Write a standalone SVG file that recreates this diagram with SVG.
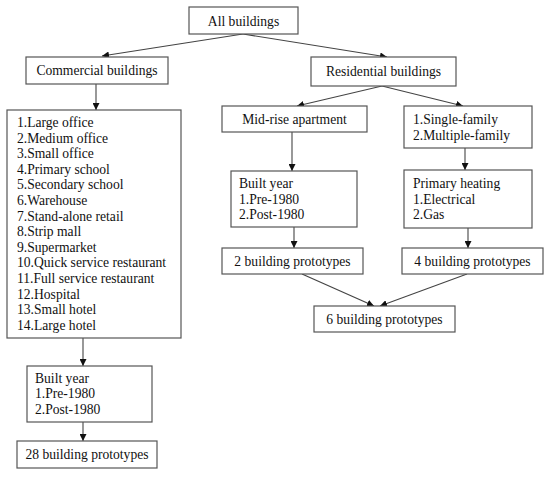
<svg xmlns="http://www.w3.org/2000/svg" width="550" height="477" viewBox="0 0 550 477">
<style>
.b{fill:#fff;stroke:#555;stroke-width:1.2}
text{font-family:"Liberation Serif","Times New Roman",serif;font-size:13.6px;fill:#111}
.c{text-anchor:middle}
.e{stroke:#444;stroke-width:1.1;fill:none;marker-end:url(#a)}
</style>
<defs>
<marker id="a" viewBox="0 0 10 10" refX="10" refY="5" markerWidth="7" markerHeight="7" markerUnits="userSpaceOnUse" orient="auto">
<path d="M0,0 L10,5 L0,10 z" fill="#111"/>
</marker>
</defs>
<rect width="550" height="477" fill="#fff"/>
<g id="connectors">
<line class="e" x1="243" y1="34" x2="102" y2="56"/>
<line class="e" x1="243" y1="34" x2="387" y2="57"/>
<line class="e" x1="96" y1="84" x2="96" y2="110"/>
<line class="e" x1="382" y1="86" x2="297" y2="106"/>
<line class="e" x1="382" y1="86" x2="463" y2="106"/>
<line class="e" x1="292" y1="132" x2="292" y2="171"/>
<line class="e" x1="465" y1="148" x2="465" y2="170"/>
<line class="e" x1="294" y1="227" x2="294" y2="248"/>
<line class="e" x1="468" y1="228" x2="468" y2="248"/>
<line class="e" x1="302" y1="274" x2="374" y2="306"/>
<line class="e" x1="467" y1="274" x2="380" y2="306"/>
<line class="e" x1="83" y1="337" x2="83" y2="366"/>
<line class="e" x1="83" y1="422" x2="83" y2="441"/>
</g>
<g id="all">
<rect class="b" x="189" y="7" width="109" height="27"/>
<text class="c" x="243.5" y="26">All buildings</text>
</g>
<g id="commercial">
<rect class="b" x="26" y="57" width="142" height="27"/>
<text class="c" x="97" y="75">Commercial buildings</text>
</g>
<g id="residential">
<rect class="b" x="311" y="57" width="145" height="29"/>
<text class="c" x="383.5" y="76">Residential buildings</text>
</g>
<g id="list">
<rect class="b" x="7" y="110" width="174" height="228"/>
<text x="17" y="127">1.Large office</text>
<text x="17" y="142.6">2.Medium office</text>
<text x="17" y="158.2">3.Small office</text>
<text x="17" y="173.8">4.Primary school</text>
<text x="17" y="189.4">5.Secondary school</text>
<text x="17" y="205">6.Warehouse</text>
<text x="17" y="220.6">7.Stand-alone retail</text>
<text x="17" y="236.2">8.Strip mall</text>
<text x="17" y="251.8">9.Supermarket</text>
<text x="17" y="267.4">10.Quick service restaurant</text>
<text x="17" y="283">11.Full service restaurant</text>
<text x="17" y="298.6">12.Hospital</text>
<text x="17" y="314.2">13.Small hotel</text>
<text x="17" y="329.8">14.Large hotel</text>
</g>
<g id="midrise">
<rect class="b" x="222" y="106" width="145" height="26"/>
<text class="c" x="294.5" y="124">Mid-rise apartment</text>
</g>
<g id="family">
<rect class="b" x="404" y="106" width="128" height="42"/>
<text x="413" y="124">1.Single-family</text>
<text x="413" y="139.5">2.Multiple-family</text>
</g>
<g id="builtyear-res">
<rect class="b" x="231" y="171" width="126" height="56"/>
<text x="239" y="188">Built year</text>
<text x="239" y="203.5">1.Pre-1980</text>
<text x="239" y="219">2.Post-1980</text>
</g>
<g id="heating">
<rect class="b" x="404" y="170" width="128" height="58"/>
<text x="413" y="188">Primary heating</text>
<text x="413" y="203.5">1.Electrical</text>
<text x="413" y="219">2.Gas</text>
</g>
<g id="proto2">
<rect class="b" x="222" y="248" width="141" height="26"/>
<text class="c" x="292.5" y="266">2 building prototypes</text>
</g>
<g id="proto4">
<rect class="b" x="402" y="248" width="141" height="26"/>
<text class="c" x="472.5" y="266">4 building prototypes</text>
</g>
<g id="proto6">
<rect class="b" x="314" y="306" width="141" height="26"/>
<text class="c" x="384.5" y="324">6 building prototypes</text>
</g>
<g id="builtyear-com">
<rect class="b" x="27" y="366" width="125" height="56"/>
<text x="35" y="383">Built year</text>
<text x="35" y="398">1.Pre-1980</text>
<text x="35" y="413.5">2.Post-1980</text>
</g>
<g id="proto28">
<rect class="b" x="17" y="441" width="140" height="27"/>
<text class="c" x="87" y="459">28 building prototypes</text>
</g>
</svg>
